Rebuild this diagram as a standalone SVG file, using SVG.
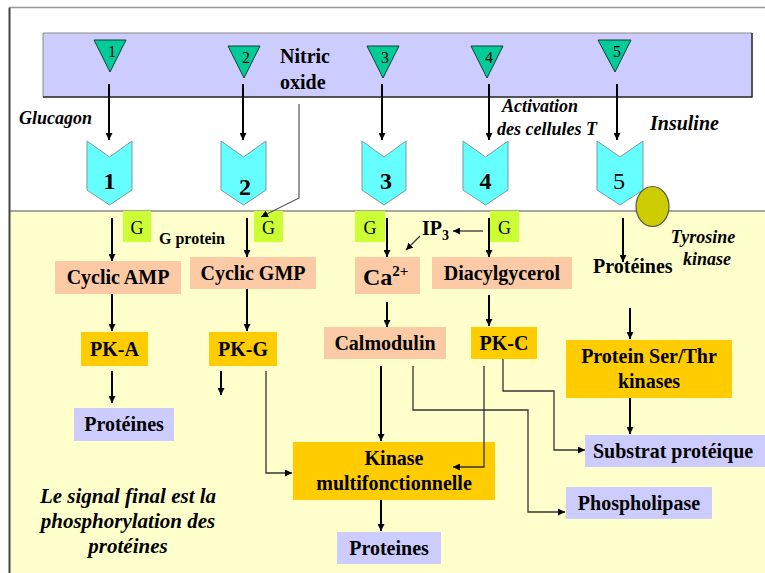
<svg xmlns="http://www.w3.org/2000/svg" width="765" height="573" viewBox="0 0 765 573" font-family="'Liberation Serif', 'Times New Roman', serif">
<defs>
<marker id="ah" viewBox="0 0 8 8" markerWidth="7" markerHeight="7" refX="8" refY="4" orient="auto" markerUnits="userSpaceOnUse"><path d="M0,0 L8,4 L0,8 z" fill="#000"/></marker>
<style>
text{font-family:'Liberation Serif','Times New Roman',serif;fill:#000}
.b{font-weight:bold;font-size:20px}
.bi{font-weight:bold;font-style:italic}
.tri{fill:#00cc99;stroke:#1a3a30;stroke-width:1}
.chev{fill:#66ffff;stroke:#7a9a9a;stroke-width:1}
.sal{fill:#fccaa5}
.org{fill:#ffcc00}
.lav{fill:#ccccff}
.g{fill:#ccff33}
.m{stroke:#000;stroke-width:2;fill:none;marker-end:url(#ah)}
.t{stroke:#333;stroke-width:1.3;fill:none;marker-end:url(#ah)}
.c{text-anchor:middle}
</style>
</defs>
<rect x="0" y="0" width="765" height="573" fill="#fff"/>
<rect x="10" y="211" width="755" height="362" fill="#ffffcc"/>
<line x1="10" y1="211" x2="765" y2="211" stroke="#888" stroke-width="1.5"/>
<line x1="9.5" y1="7.5" x2="765" y2="7.5" stroke="#999" stroke-width="1.5"/>
<line x1="9.5" y1="7.5" x2="9.5" y2="573" stroke="#444" stroke-width="2"/>
<g id="membrane">
<rect x="43" y="33" width="709" height="64" fill="#ccccff"/>
<path d="M43,33 L752,33 L752,97 L43,97 Z" fill="none" stroke="#888" stroke-width="1"/>
<path d="M752,33 L752,97 L43,97" fill="none" stroke="#333" stroke-width="1.5"/>
</g>
<g id="receptor1"><polygon class="tri" points="94,40 126,40 110,72"/><text x="112" y="57" font-size="16" class="c">1</text></g>
<g id="receptor2"><polygon class="tri" points="228,46 260,46 244,78"/><text x="246" y="63" font-size="16" class="c">2</text></g>
<g id="receptor3"><polygon class="tri" points="367,46 399,46 383,78"/><text x="385" y="63" font-size="16" class="c">3</text></g>
<g id="receptor4"><polygon class="tri" points="471,46 503,46 487,78"/><text x="489" y="63" font-size="16" class="c">4</text></g>
<g id="receptor5"><polygon class="tri" points="598,40 631,40 615,72"/><text x="617" y="57" font-size="16" class="c">5</text></g>
<g id="chevron1"><polygon class="chev" points="87,141 109.5,157 132,141 132,190 109.5,205 87,190"/><text x="109.5" y="189" font-size="24" font-weight="bold" class="c">1</text></g>
<g id="chevron2"><polygon class="chev" points="221,141 243.5,157 266,141 266,190 243.5,205 221,190"/><text x="245" y="195" font-size="24" font-weight="bold" class="c">2</text></g>
<g id="chevron3"><polygon class="chev" points="362,141 384,157 406,141 406,190 384,205 362,190"/><text x="386" y="189" font-size="24" font-weight="bold" class="c">3</text></g>
<g id="chevron4"><polygon class="chev" points="463,141 485.5,157 508,141 508,190 485.5,205 463,190"/><text x="485.5" y="189" font-size="24" font-weight="bold" class="c">4</text></g>
<g id="chevron5"><polygon class="chev" points="597,141 620,157 643,141 643,190 620,205 597,190"/><text x="619" y="189" font-size="24" class="c">5</text></g>
<g id="tyrosine-kinase"><ellipse cx="652.5" cy="206.5" rx="16.5" ry="20" fill="#cccc00" stroke="#555" stroke-width="1.2"/></g>
<g id="labels-top">
<text x="19" y="124" font-size="18" class="bi">Glucagon</text>
<text x="280" y="63" class="b">Nitric</text>
<text x="280" y="89" class="b">oxide</text>
<text x="502" y="112" font-size="18" class="bi">Activation</text>
<text x="497" y="135" font-size="18" class="bi">des cellules T</text>
<text x="650" y="130" font-size="20" class="bi">Insuline</text>
</g>
<g id="G1"><rect class="g" x="123" y="211" width="28" height="31"/><text x="137" y="234" font-size="18" class="c">G</text></g>
<g id="G2"><rect class="g" x="254" y="211" width="29" height="31"/><text x="268.5" y="234" font-size="18" class="c">G</text></g>
<g id="G3"><rect class="g" x="355" y="211" width="30" height="31"/><text x="370" y="234" font-size="18" class="c">G</text></g>
<g id="G4"><rect class="g" x="490" y="211" width="29" height="31"/><text x="504.5" y="234" font-size="18" class="c">G</text></g>
<text x="159" y="244" font-size="16" font-weight="bold">G protein</text>
<g id="cAMP"><rect class="sal" x="55" y="261" width="126" height="33"/><text x="118" y="284" class="b c">Cyclic AMP</text></g>
<g id="cGMP"><rect class="sal" x="190" y="257" width="126" height="32"/><text x="253" y="280" class="b c">Cyclic GMP</text></g>
<g id="Ca"><rect class="sal" x="355" y="257" width="65" height="37"/><text x="363" y="285" font-size="24" font-weight="bold">Ca<tspan font-size="15" dy="-9">2+</tspan></text></g>
<g id="IP3"><text x="422" y="235" class="b">IP<tspan font-size="14" dy="5">3</tspan></text></g>
<g id="DAG"><rect class="sal" x="432" y="257" width="140" height="32"/><text x="502" y="280" class="b c">Diacylgycerol</text></g>
<g id="PKA"><rect class="org" x="81" y="332" width="67" height="34"/><text x="114.5" y="356" class="b c">PK-A</text></g>
<g id="PKG"><rect class="org" x="209" y="332" width="68" height="34"/><text x="243" y="356" class="b c">PK-G</text></g>
<g id="Calmodulin"><rect class="sal" x="324" y="327" width="122" height="32"/><text x="385" y="350" class="b c">Calmodulin</text></g>
<g id="PKC"><rect class="org" x="471" y="327" width="66" height="32"/><text x="504" y="350" class="b c">PK-C</text></g>
<g id="Proteines5"><text x="593" y="273" class="b">Protéines</text></g>
<g id="tk-label"><text x="703" y="243" font-size="18" class="bi c">Tyrosine</text><text x="707" y="265" font-size="18" class="bi c">kinase</text></g>
<g id="SerThr"><rect class="org" x="566" y="340" width="166" height="58"/><text x="649" y="363" class="b c">Protein Ser/Thr</text><text x="649" y="388" class="b c">kinases</text></g>
<g id="ProteinesA"><rect class="lav" x="74" y="408" width="100" height="33"/><text x="124" y="431" class="b c">Protéines</text></g>
<g id="Substrat"><rect class="lav" x="585" y="435" width="180" height="32"/><text x="593" y="458" class="b">Substrat protéique</text></g>
<g id="Kinase"><rect class="org" x="293" y="442" width="202" height="58"/><text x="394" y="465" class="b c">Kinase</text><text x="394" y="490" class="b c">multifonctionnelle</text></g>
<g id="Phospholipase"><rect class="lav" x="566" y="487" width="146" height="32"/><text x="639" y="510" class="b c">Phospholipase</text></g>
<g id="ProteinesK"><rect class="lav" x="337" y="532" width="104" height="32"/><text x="389" y="555" class="b c">Proteines</text></g>
<g id="note">
<text x="128" y="503" font-size="21" class="bi c">Le signal final est la</text>
<text x="128" y="528" font-size="21" class="bi c">phosphorylation des</text>
<text x="128" y="553" font-size="21" class="bi c">protéines</text>
</g>
<g id="connectors">
<path class="m" d="M109,84 V140"/>
<path class="m" d="M243,84 V140"/>
<path class="m" d="M382,84 V140"/>
<path class="m" d="M489,84 V140"/>
<path class="m" d="M617,84 V140"/>
<path d="M299,104 V198 L261,217" stroke="#555" stroke-width="1.2" fill="none" marker-end="url(#ah)"/>
<path class="m" d="M112,218 V261"/>
<path class="m" d="M112,294 V331"/>
<path class="m" d="M112,371 V403"/>
<path class="m" d="M247,218 V257"/>
<path class="m" d="M247,289 V331"/>
<path class="m" d="M221,371 V395"/>
<path class="t" d="M266,371 V473 H292"/>
<path class="m" d="M387,218 V257"/>
<path class="m" d="M387,302 V327"/>
<path class="m" d="M381,366 V441"/>
<path class="t" d="M413,366 V410 H528 V512 H565"/>
<path class="m" d="M489,218 V257"/>
<path class="t" d="M483,231 H453"/>
<path class="t" d="M420,236 L406,250"/>
<path class="m" d="M489,295 V326"/>
<path class="t" d="M484,366 V467 H453"/>
<path class="t" d="M503,359 V391 H554 V450 H585"/>
<path class="m" d="M623,218 V262"/>
<path class="m" d="M630,308 V339"/>
<path class="m" d="M630,398 V434"/>
<path class="m" d="M381,500 V531"/>
</g>
</svg>
